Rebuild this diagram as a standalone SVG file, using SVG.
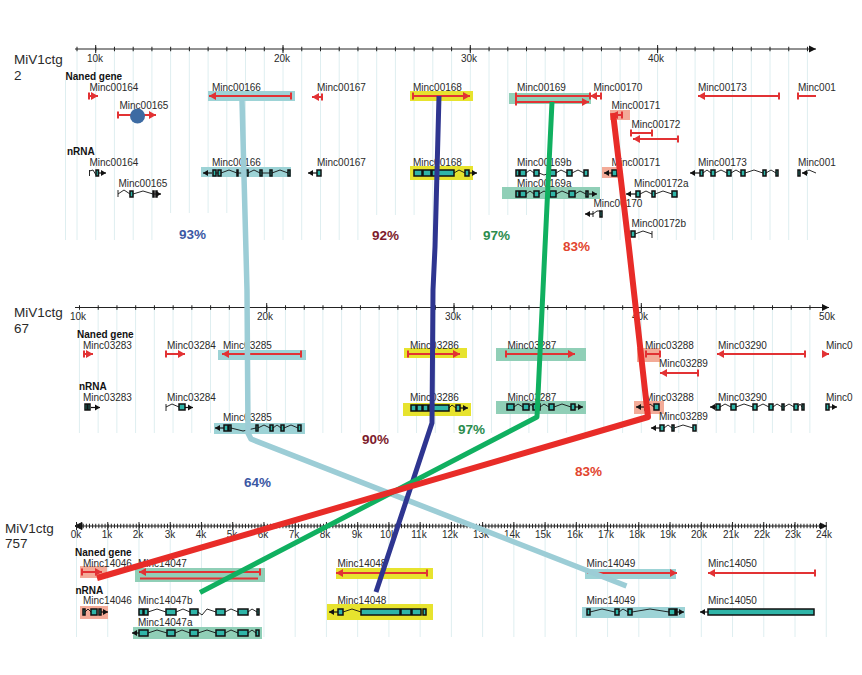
<svg xmlns="http://www.w3.org/2000/svg" width="862" height="675" viewBox="0 0 862 675">
<style>
text{font-family:"Liberation Sans",Arial,sans-serif;font-size:10px;fill:#2a2a2a}
.title{font-size:13.5px}
.ax{font-size:10px;text-anchor:middle}
.hd{font-weight:bold;fill:#111}
.pc{font-size:13.5px;font-weight:bold}
.grid{fill:none;stroke:#deeef0;stroke-width:1}
.axis{fill:none;stroke:#222;stroke-width:1}
.maj{fill:none;stroke:#222;stroke-width:1}
.r{fill:none;stroke:#e23234;stroke-width:2}
.a{marker-end:url(#ra)}
.b{marker-start:url(#rb)}
.e{marker-end:url(#rb)}
.in{fill:none;stroke:#111;stroke-width:.9}
.ex{fill:#2fb5a8;stroke:#111;stroke-width:1.5}
.tip{fill:none;stroke:#111;stroke-width:1.2;marker-end:url(#ka)}
.hc{fill:#9dd3d6}
.hg{fill:#90cfb7}
.hy{fill:#e7e32e}
.hs{fill:#f3ab98}
.link{fill:none;stroke-linejoin:round}
</style>
<defs>
<marker id="ra" markerUnits="userSpaceOnUse" markerWidth="9" markerHeight="9" refX="7" refY="4.500" orient="auto"><path d="M0 0.500L7 4.500L0 8.500z" fill="#e23234"/></marker>
<marker id="rb" markerUnits="userSpaceOnUse" markerWidth="4" markerHeight="9" refX="2" refY="4.500" orient="auto"><path d="M1 1h2v7h-2z" fill="#e23234"/></marker>
<marker id="ka" markerUnits="userSpaceOnUse" markerWidth="7" markerHeight="7" refX="5" refY="3.500" orient="auto"><path d="M0 0.500L5 3.500L0 6.500z" fill="#111"/></marker>
<marker id="ax" markerUnits="userSpaceOnUse" markerWidth="8" markerHeight="8" refX="7" refY="4" orient="auto"><path d="M0 0.500L7 4L0 7.500z" fill="#111"/></marker>
</defs>

<g id="grid">
<path class="grid" d="M65.500 80V240M77 49V240M95.700 49V240M114.400 49V240M133.200 49V240M151.900 49V240M170.600 49V213M189.300 49V213M208.100 49V213M226.800 49V213M245.500 49V240M264.300 49V240M283 49V240M301.700 49V240M320.500 49V240M339.200 49V240M357.900 49V240M376.700 49V215M395.400 49V215M414.100 49V215M432.800 49V240M451.600 49V240M470.300 49V240M489 49V215M507.800 49V215M526.500 49V215M545.200 49V225M564 49V240M582.700 49V240M601.400 49V240M620.100 49V240M638.900 49V240M657.600 49V240M676.300 49V240M695.100 49V240M713.800 49V240M732.500 49V240M751.300 49V240M770 49V240M788.700 49V240M807.400 49V240"/>
<path class="grid" d="M79.400 307v126m18.730-126v126m18.730-126v126m18.730-126v126m18.730-126v126m18.730-126v126m18.730-126v126m18.730-126v126m18.730-126v126m18.730-126v126m18.730-126v126m18.730-126v126m18.730-126v126m18.730-126v126m18.730-126v126m18.730-126v126m18.730-126v126m18.730-126v126m18.730-126v126m18.730-126v126m18.730-126v126m18.730-126v126m18.730-126v126m18.730-126v126m18.730-126v126m18.730-126v126m18.730-126v126m18.730-126v126m18.730-126v126m18.730-126v126m18.730-126v126m18.730-126v126m18.730-126v126m18.730-126v126m18.730-126v126m18.730-126v126m18.730-126v126m18.730-126v126m18.730-126v126m18.730-126v126"/>
<path class="grid" d="M76.500 526v111m31.240-111v111m31.240-111v111m31.240-111v111m31.240-111v111m31.240-111v111m31.240-111v111m31.240-111v111m31.240-111v111m31.240-111v111m31.240-111v111m31.240-111v111m31.240-111v111m31.240-111v111m31.240-111v111m31.240-111v111m31.240-111v111m31.240-111v111m31.240-111v111m31.240-111v111m31.240-111v111m31.240-111v111m31.240-111v111m31.240-111v111m31.240-111v111"/>
</g>

<g id="axis-ctg2">
<path class="axis" d="M75 49H816" marker-end="url(#ax)"/>
<line x1="76.500" x2="808" y1="49" y2="49" stroke="#222" stroke-width="4.500" stroke-dasharray="1 17.730"/>
<path class="maj" d="M95.700 45V53M283 45V53M470.300 45V53M657.600 45V53"/>
<text class="ax" x="95" y="62">10k</text><text class="ax" x="282" y="62">20k</text><text class="ax" x="469" y="62">30k</text><text class="ax" x="656" y="62">40k</text>
<text class="title" x="14" y="64">MiV1ctg</text><text class="title" x="14" y="80">2</text>
<text class="hd" x="65.500" y="80">Naned gene</text><text class="hd" x="67" y="155">nRNA</text>
</g>
<g id="axis-ctg67">
<path class="axis" d="M75 307.500H829" marker-end="url(#ax)"/>
<line x1="79" x2="824" y1="307.500" y2="307.500" stroke="#222" stroke-width="4.500" stroke-dasharray="1 17.730"/>
<path class="maj" d="M266.700 303V312M454 303V312M641.300 303V312"/>
<text class="ax" x="78" y="320">10k</text><text class="ax" x="265" y="320">20k</text><text class="ax" x="453" y="320">30k</text><text class="ax" x="640" y="320">40k</text><text class="ax" x="827" y="320">50k</text>
<text class="title" x="14" y="317">MiV1ctg</text><text class="title" x="14" y="333">67</text>
<text class="hd" x="77" y="338">Naned gene</text><text class="hd" x="79" y="390">nRNA</text>
</g>
<g id="axis-ctg757">
<path class="axis" d="M82 526H827" marker-end="url(#ax)"/>
<path d="M82 526H75M75 526l7-3.500v7z" fill="#111" stroke="#111"/>
<line x1="76.500" x2="824" y1="526" y2="526" stroke="#222" stroke-width="4.500" stroke-dasharray="1 2.120"/>
<path class="maj" d="M76.500 522v8m31.240-8v8m31.240-8v8m31.240-8v8m31.240-8v8m31.240-8v8m31.240-8v8m31.240-8v8m31.240-8v8m31.240-8v8m31.240-8v8m31.240-8v8m31.240-8v8m31.240-8v8m31.240-8v8m31.240-8v8m31.240-8v8m31.240-8v8m31.240-8v8m31.240-8v8m31.240-8v8m31.240-8v8m31.240-8v8m31.240-8v8m31.240-8v8"/>
<text class="ax" x="76" y="538">0k</text><text class="ax" x="107" y="538">1k</text><text class="ax" x="138" y="538">2k</text><text class="ax" x="170" y="538">3k</text><text class="ax" x="201" y="538">4k</text><text class="ax" x="232" y="538">5k</text><text class="ax" x="263" y="538">6k</text><text class="ax" x="294" y="538">7k</text><text class="ax" x="325" y="538">8k</text><text class="ax" x="357" y="538">9k</text><text class="ax" x="388" y="538">10k</text><text class="ax" x="419" y="538">11k</text><text class="ax" x="450" y="538">12k</text><text class="ax" x="481" y="538">13k</text><text class="ax" x="512" y="538">14k</text><text class="ax" x="543" y="538">15k</text><text class="ax" x="575" y="538">16k</text><text class="ax" x="606" y="538">17k</text><text class="ax" x="637" y="538">18k</text><text class="ax" x="668" y="538">19k</text><text class="ax" x="699" y="538">20k</text><text class="ax" x="731" y="538">21k</text><text class="ax" x="762" y="538">22k</text><text class="ax" x="793" y="538">23k</text><text class="ax" x="824" y="538">24k</text>
<text class="title" x="5" y="533">MiV1ctg</text><text class="title" x="5" y="548">757</text>
<text class="hd" x="75" y="556">Naned gene</text><text class="hd" x="75.500" y="594">nRNA</text>
</g>

<g id="g-Minc00164"><text x="89.500" y="91">Minc00164</text><path class="r b a" d="M89 96H98"/></g>
<g id="g-Minc00165"><text x="119.500" y="109">Minc00165</text><path class="r b a" d="M118 115H156"/><circle cx="137.500" cy="116" r="7.500" fill="#3d6ba3"/></g>
<g id="g-Minc00166"><rect class="hc" x="208" y="91" width="87" height="10"/><text x="212" y="91">Minc00166</text><path class="r b a" d="M291 96H209"/></g>
<g id="g-Minc00167"><text x="317" y="91">Minc00167</text><path class="r b a" d="M322 97H312"/></g>
<g id="g-Minc00168"><rect class="hy" x="410" y="91" width="63" height="10"/><text x="413" y="91">Minc00168</text><path class="r b a" d="M413 96H470"/></g>
<g id="g-Minc00169"><rect class="hg" x="509" y="93" width="82" height="11"/><text x="517" y="91">Minc00169</text><path class="r b e" d="M516 96H590"/><path class="r b a" d="M516 102H589"/></g>
<g id="g-Minc00170"><text x="593.500" y="91">Minc00170</text><path class="r b a" d="M601 96H590"/></g>
<g id="g-Minc00171"><rect class="hs" x="610" y="110" width="20" height="10"/><text x="611.500" y="109">Minc00171</text><path class="r b a" d="M622 115H611"/></g>
<g id="g-Minc00172"><text x="631.500" y="128">Minc00172</text><path class="r b e" d="M631 133H652"/><path class="r b a" d="M678 139H633"/></g>
<g id="g-Minc00173"><text x="698" y="91">Minc00173</text><path class="r b a" d="M779 96H698"/></g>
<g id="g-Minc001"><text x="798" y="91">Minc001</text><path class="r b" d="M798 96H816"/></g>

<g id="m-Minc00164"><text x="89.500" y="166">Minc00164</text><path class="in" d="M89.500 170V176M89.500 171L93 170L96 175"/><path class="ex" d="M96 170h2.500v6h-2.500z"/><path class="tip" d="M99 173H106"/></g>
<g id="m-Minc00165"><text x="118.500" y="187">Minc00165</text><path class="in" d="M118 190V197M118 194L124 190L130 194M133 194L143 191L153 194H157"/><path class="ex" d="M130 191h3v6h-3zM153 191h1v6h-1zM156 191h1v6h-1z"/><path class="tip" d="M157 194H161"/></g>
<g id="m-Minc00166"><rect class="hc" x="201" y="167" width="90" height="10"/><text x="212" y="166">Minc00166</text><path class="tip" d="M212 173H203"/><path class="in" d="M216 173H218M221 173L229 170L237 173M238 173H246M248 173L254 170L260 173M262 173H270M272 173L280 170L288 173"/><path class="ex" d="M213 170h3v6h-3zM218 170h3v6h-3zM237 170h1v6h-1zM246 170h2v6h-2zM260 170h2v6h-2zM270 170h2v6h-2zM288 170h2v6h-2z"/></g>
<g id="m-Minc00167"><text x="317" y="166">Minc00167</text><path class="tip" d="M317 173H308"/><path class="ex" d="M317 170h4v6h-4z"/></g>
<g id="m-Minc00168"><rect class="hy" x="410" y="166" width="63" height="14"/><text x="413" y="166">Minc00168</text><path class="in" d="M454 173L459 170L465 173"/><path class="ex" d="M414 170h8v6h-8zM423 170h8v6h-8zM432 170h22v6h-22zM465 170h4v6h-4z"/><path class="tip" d="M469 173H477"/></g>
<g id="m-Minc00169b"><text x="517" y="166">Minc00169b</text><path class="in" d="M526 173L530 170L534 173M539 173L544 175L550 173M556 173L561 170L567 173M572 173L578 170L584 173"/><path class="ex" d="M516 170h3v6h-3zM520 170h6v6h-6zM534 170h5v6h-5zM550 170h6v6h-6zM567 170h5v6h-5zM584 170h4v6h-4z"/></g>
<g id="m-Minc00169a"><rect class="hg" x="502" y="187" width="98" height="12"/><text x="517" y="187">Minc00169a</text><path class="in" d="M526 194L530 191L534 194M539 194L544 191L550 194M556 194L562 191L569 194M575 194L580 191L586 194"/><path class="ex" d="M516 191h3v6h-3zM520 191h6v6h-6zM534 191h5v6h-5zM550 191h6v6h-6zM569 191h6v6h-6zM586 191h2v6h-2z"/><path class="tip" d="M589 194H597"/></g>
<g id="m-Minc00170"><text x="593.500" y="207">Minc00170</text><path class="tip" d="M593 214H585"/><path class="in" d="M593 211V217M593 214L597 211H600"/><path class="ex" d="M600 211h2v6h-2z"/></g>
<g id="m-Minc00171"><rect class="hs" x="602" y="167" width="20" height="11"/><text x="611.500" y="166">Minc00171</text><path class="tip" d="M612 173H604"/><path class="ex" d="M612 170h5v6h-5z"/></g>
<g id="m-Minc00172a"><text x="634" y="187">Minc00172a</text><path class="tip" d="M636 194H626"/><path class="in" d="M640 194L646 191L652 194M655 194L663 191L672 194"/><path class="ex" d="M636 191h4v6h-4zM652 191h3v6h-3zM672 191h5v6h-5z"/></g>
<g id="m-Minc00172b"><text x="631.500" y="227">Minc00172b</text><path class="in" d="M635 234L643 231L652 234M652 231V238"/><path class="ex" d="M631 231h4v6h-4z"/></g>
<g id="m-Minc00173"><text x="698" y="166">Minc00173</text><path class="tip" d="M700 173H690"/><path class="in" d="M703 173L707 170L711 173M715 173L721 170L727 173M731 173L736 170L741 173M745 173L754 170L763 173M766 173L771 170L776 173"/><path class="ex" d="M700 170h3v6h-3zM711 170h4v6h-4zM727 170h4v6h-4zM741 170h4v6h-4zM763 170h3v6h-3zM776 170h2v6h-2z"/></g>
<g id="m-Minc001"><text x="798" y="166">Minc001</text><path class="ex" d="M798 170h2v6h-2z"/><path class="tip" d="M808 173H802"/><path class="in" d="M804 173L809 170L816 173"/></g>

<g id="g-Minc03283"><text x="83" y="349">Minc03283</text><path class="r b a" d="M84 354H93"/></g>
<g id="g-Minc03284"><text x="167" y="349">Minc03284</text><path class="r b a" d="M166 354H185"/></g>
<g id="g-Minc03285"><rect class="hc" x="218" y="350" width="88" height="10"/><text x="223" y="349">Minc03285</text><path class="r b a" d="M301 354H222"/></g>
<g id="g-Minc03286"><rect class="hy" x="404" y="348" width="63" height="10"/><text x="410" y="349">Minc03286</text><path class="r b a" d="M408 354H460"/></g>
<g id="g-Minc03287"><rect class="hg" x="496" y="348" width="90" height="13"/><text x="507.500" y="349">Minc03287</text><path class="r b a" d="M506 354H575"/></g>
<g id="g-Minc03288"><rect class="hs" x="637" y="348" width="23" height="14"/><text x="645" y="349">Minc03288</text><path class="r b e" d="M660 354H646"/></g>
<g id="g-Minc03289"><text x="659" y="367">Minc03289</text><path class="r b a" d="M698 373H660"/></g>
<g id="g-Minc03290"><text x="718" y="349">Minc03290</text><path class="r b a" d="M805 354H717"/></g>
<g id="g-Minc0a"><text x="826" y="349">Minc0</text><path class="r a" d="M825 354H829"/></g>

<g id="m-Minc03283"><text x="83" y="401">Minc03283</text><path class="ex" d="M85 404h2v6h-2zM88 404h2v6h-2z"/><path class="tip" d="M91 407.500H100"/></g>
<g id="m-Minc03284"><text x="167" y="401">Minc03284</text><path class="in" d="M166 404V411M166 407L172 404L179 407"/><path class="ex" d="M179 404h6v6h-6z"/><path class="tip" d="M185 407.500H193"/></g>
<g id="m-Minc03285"><rect class="hc" x="214" y="423" width="91" height="11"/><text x="223" y="421">Minc03285</text><path class="tip" d="M224 428H215"/><path class="in" d="M231 428L243 431L256 428M258 428L264 425L270 428M273 428L277 425L281 428M284 428L291 425L298 428"/><path class="ex" d="M224 425h4v6h-4zM229 425h2v6h-2zM256 425h2v6h-2zM270 425h3v6h-3zM281 425h3v6h-3zM298 425h3v6h-3z"/></g>
<g id="m-Minc03286"><rect class="hy" x="403" y="403" width="68" height="13"/><text x="410" y="401">Minc03286</text><path class="in" d="M449 408L452 405L456 408"/><path class="ex" d="M411 405h5v6h-5zM417 405h5v6h-5zM423 405h5v6h-5zM429 405h20v6h-20zM456 405h4v6h-4z"/><path class="tip" d="M460 408H468"/></g>
<g id="m-Minc03287"><rect class="hg" x="496" y="401" width="90" height="13"/><text x="507.500" y="401">Minc03287</text><path class="in" d="M514 407L518 404L523 407M529 407L531 404L533 407M540 407L544 404L549 407M554 407L562 404L571 407"/><path class="ex" d="M507 404h7v6h-7zM523 404h6v6h-6zM533 404h7v6h-7zM549 404h5v6h-5zM571 404h4v6h-4z"/><path class="tip" d="M575 407H583"/></g>
<g id="m-Minc03288"><rect class="hs" x="634" y="401" width="30" height="13"/><text x="645" y="401">Minc03288</text><path class="tip" d="M645 407H636"/><path class="in" d="M647 407L650 404L654 407"/><path class="ex" d="M645 404h2v6h-2zM654 404h5v6h-5z"/></g>
<g id="m-Minc03289"><text x="659" y="420">Minc03289</text><path class="tip" d="M660 428H651"/><path class="in" d="M664 428L668 425L672 428M674 428L683 425L693 428"/><path class="ex" d="M660 425h4v6h-4zM672 425h2v6h-2zM693 425h3v6h-3z"/></g>
<g id="m-Minc03290"><text x="718" y="401">Minc03290</text><path class="tip" d="M716 407H710"/><path class="in" d="M720 407L725 404L731 407M736 407L744 404L753 407M757 407L763 404L769 407M773 407L777 404L782 407M784 407L789 404L794 407M798 407L800 404L802 407"/><path class="ex" d="M716 404h4v6h-4zM731 404h5v6h-5zM753 404h4v6h-4zM769 404h4v6h-4zM782 404h2v6h-2zM794 404h4v6h-4zM802 404h2v6h-2z"/></g>
<g id="m-Minc0b"><text x="826" y="401">Minc0</text><path class="ex" d="M826 404h3v6h-3z"/><path class="tip" d="M829 407H837"/></g>

<g id="g-Minc14046"><rect class="hs" x="80" y="566" width="27" height="12"/><text x="83" y="567">Minc14046</text><path class="r b a" d="M82 572H102"/></g>
<g id="g-Minc14047"><rect class="hg" x="135" y="568" width="130" height="14"/><text x="138" y="567">Minc14047</text><path class="r b a" d="M260 572H139"/><path class="r" d="M140 578.500H258"/></g>
<g id="g-Minc14048"><rect class="hy" x="336" y="568" width="97" height="11"/><text x="337.500" y="567">Minc14048</text><path class="r b a" d="M427 573H336"/></g>
<g id="g-Minc14049"><rect class="hc" x="585" y="569" width="91" height="10"/><text x="586.500" y="567">Minc14049</text><path class="r a" d="M587 573H677"/></g>
<g id="g-Minc14050"><text x="708" y="567">Minc14050</text><path class="r b a" d="M815 573H708"/></g>

<g id="m-Minc14046"><rect class="hs" x="80" y="606" width="28" height="13"/><text x="83" y="604">Minc14046</text><path class="in" d="M85 612L88 609L91 612"/><path class="ex" d="M83 609h2v6h-2zM91 609h6v6h-6zM99 609h2v6h-2z"/><path class="tip" d="M101 612H108"/></g>
<g id="m-Minc14047b"><text x="138" y="604">Minc14047b</text><path class="in" d="M148 612L157 609L166 612M176 612L183 609L190 612M198 612L202 615L207 609L216 612M225 612L231 609L238 612M248 612L252 609L257 612"/><path class="ex" d="M139 609h4v6h-4zM144 609h4v6h-4zM166 609h10v6h-10zM190 609h8v6h-8zM216 609h9v6h-9zM238 609h10v6h-10zM257 609h2v6h-2z"/></g>
<g id="m-Minc14047a"><rect class="hg" x="133" y="627" width="129" height="12"/><text x="138" y="626">Minc14047a</text><path class="tip" d="M139 633H132"/><path class="in" d="M148 633L157 630L167 633M175 633L182 630L190 633M198 633L207 630L216 633M225 633L231 630L238 633M248 633L252 630L256 633"/><path class="ex" d="M139 630h9v6h-9zM167 630h8v6h-8zM190 630h8v6h-8zM216 630h9v6h-9zM238 630h10v6h-10zM256 630h3v6h-3z"/></g>
<g id="m-Minc14048"><rect class="hy" x="327" y="604" width="106" height="16"/><text x="337.500" y="604">Minc14048</text><path class="tip" d="M338 612H329"/><path class="in" d="M343 612L352 609L361 612"/><path class="ex" d="M338 609h5v6h-5zM361 609h39v6h-39zM401 609h10v6h-10zM412 609h9v6h-9zM423 609h3v6h-3z"/></g>
<g id="m-Minc14049"><rect class="hc" x="582" y="607" width="103" height="11"/><text x="586.500" y="604">Minc14049</text><path class="in" d="M590 612L602 609L615 612M619 612L623 609L628 612M632 612L650 609L669 612"/><path class="ex" d="M587 609h3v6h-3zM615 609h4v6h-4zM628 609h4v6h-4zM669 609h6v6h-6zM676 609h1v6h-1z"/><path class="tip" d="M677 612H684"/></g>
<g id="m-Minc14050"><text x="708" y="604">Minc14050</text><path class="tip" d="M708 612H700"/><path class="ex" d="M708 609h106v6h-106z"/></g>

<g id="connectors">
<path class="link" stroke="#9ccdd6" stroke-width="5.500" d="M242 100L247 290L248 433L251 439L626.500 586"/>
<path class="link" stroke="#2e3590" stroke-width="5" d="M439 96L435 247L433 290L432 423L376 592"/>
<path class="link" stroke="#10b060" stroke-width="5" d="M552 102L545 247L537 417L200 592.500"/>
<path class="link" stroke="#e82c28" stroke-width="6" d="M613 113L629 248L648 417L97 578"/>
</g>

<g id="labels">
<text class="pc" x="179" y="239" style="fill:#3b58a4">93%</text>
<text class="pc" x="372" y="240" style="fill:#7d1b2c">92%</text>
<text class="pc" x="483" y="240" style="fill:#2b8c4e">97%</text>
<text class="pc" x="563" y="251" style="fill:#e2452f">83%</text>
<text class="pc" x="362" y="444" style="fill:#7d1b2c">90%</text>
<text class="pc" x="458" y="434" style="fill:#2b8c4e">97%</text>
<text class="pc" x="575" y="476" style="fill:#e2452f">83%</text>
<text class="pc" x="244" y="487" style="fill:#3b58a4">64%</text>
</g>
</svg>
